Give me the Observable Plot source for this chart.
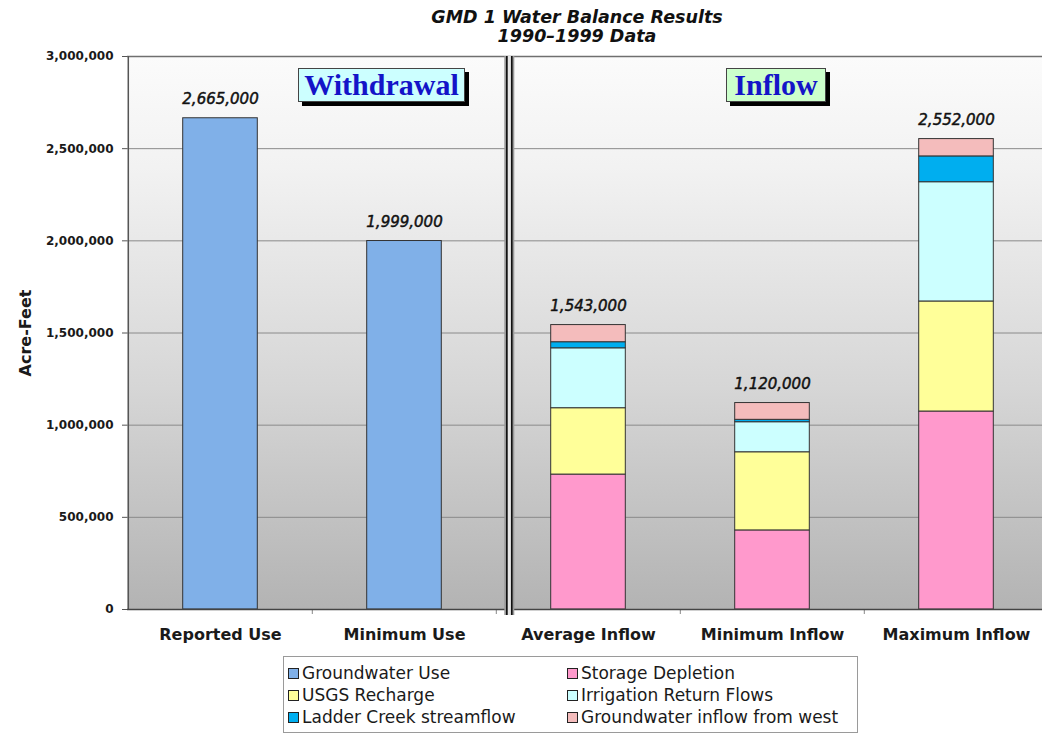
<!DOCTYPE html>
<html>
<head>
<meta charset="utf-8">
<script src="https://cdn.jsdelivr.net/npm/d3@7"></script>
<script src="https://cdn.jsdelivr.net/npm/@observablehq/plot@0.6"></script>
<style>
  body { margin: 0; background: #fff; }
  #chart { position: relative; width: 1042px; height: 734px; overflow: hidden; font-family: "DejaVu Sans", sans-serif; }
  #chart svg { position: absolute; left: 0; top: 0; }
  #title { position: absolute; left: 577px; top: 8px; transform: translateX(-50%); text-align: center;
           font: italic bold 17.5px/19px "DejaVu Sans", sans-serif; white-space: nowrap; color: #111; }
  .tag { position: absolute; top: 68px; height: 32px; border: 1px solid #444; box-shadow: 4px 4px 0 #000;
         font: bold 30px/32px "Liberation Serif", serif; color: #1414c8; text-align: center; }
  #legend { position: absolute; left: 283px; top: 656px; width: 569px; height: 70px; border: 1px solid #9a9a9a;
            background: #fff; display: grid; grid-template-columns: 279px 1fr; grid-auto-rows: 22px;
            padding: 5px 0 0 4px; font-size: 17px; color: #1a1a1a; }
  .item { display: flex; align-items: center; white-space: nowrap; }
  .sw { width: 9px; height: 9px; border: 1px solid #222; margin-right: 3px; flex: none; }
</style>
</head>
<body>
<div id="chart">
  <div id="title">GMD 1 Water Balance Results<br>1990–1999 Data</div>
</div>
<script>
// Bar groups along the x axis
const categories = ["Reported Use", "Minimum Use", "Average Inflow", "Minimum Inflow", "Maximum Inflow"];

// Components (acre-feet) for each group, bottom to top
const seriesNames = [
  "Groundwater Use", "Storage Depletion", "USGS Recharge",
  "Irrigation Return Flows", "Ladder Creek streamflow", "Groundwater inflow from west"
];
const seriesColors = ["#80b0e8", "#ff99cc", "#ffff99", "#ccffff", "#00aeef", "#f4bcbc"];

const groundwaterUse        = [2665000, 1999000, 0, 0, 0];
const storageDepletion      = [0, 0, 732000, 429000, 1074000];
const usgsRecharge          = [0, 0, 360000, 424000, 597000];
const irrigationReturnFlows = [0, 0, 325000, 163000, 647000];
const ladderCreek           = [0, 0, 33000, 13000, 140000];
const inflowFromWest        = [0, 0, 93000, 91000, 94000];

const yTicks = [0, 500000, 1000000, 1500000, 2000000, 2500000, 3000000];

const sectionTags = [
  {text: "Withdrawal", fill: "#ccffff", left: 298, width: 167},
  {text: "Inflow", fill: "#ccffcc", left: 726, width: 100}
];

// Long table for the stacked bars
const seriesValues = [groundwaterUse, storageDepletion, usgsRecharge, irrigationReturnFlows, ladderCreek, inflowFromWest];
const rows = [];
seriesNames.forEach((s, j) => categories.forEach((c, i) => {
  if (seriesValues[j][i] > 0) rows.push({category: c, series: s, value: seriesValues[j][i]});
}));
const totals = categories.map((c, i) => ({category: c, total: d3.sum(seriesValues, v => v[i])}));

const W = 1042, H = 734, mL = 127, mR = -7, mT = 56, mB = 125;
const step = (W - mL - mR) / categories.length;
const barWidth = 75;
const inset = (step - barWidth) / 2;
const dividerOffset = -step / 2 + 13;

const plot = Plot.plot({
  width: W, height: H,
  marginLeft: mL, marginRight: mR, marginTop: mT, marginBottom: mB,
  style: {fontFamily: '"DejaVu Sans", sans-serif', fontSize: "12px", color: "#1a1a1a", background: "transparent", overflow: "hidden"},
  x: {domain: categories, padding: 0, axis: null, label: null},
  y: {domain: [0, 3000000], axis: null, label: null},
  color: {domain: seriesNames, range: seriesColors},
  marks: [
    Plot.frame({fill: "url(#plot-bg)", stroke: null}),
    Plot.ruleY(yTicks, {stroke: "#8a8a8a", strokeWidth: 1}),
    Plot.ruleY([3000000], {stroke: "#6f6f6f", strokeWidth: 1.5}),
    Plot.barY(rows, Plot.stackY({
      x: "category", y: "value", fill: "series",
      stroke: "#333", strokeWidth: 1, insetLeft: inset, insetRight: inset
    })),
    Plot.text(totals, {
      x: "category", y: "total", text: d => d3.format(",")(d.total),
      dy: -19, fontSize: 15, fontStyle: "italic", fill: "#111", stroke: "#222", strokeWidth: 0.5
    }),
    // small ticks at the band boundaries
    Plot.ruleX(categories.slice(1), {dx: -step / 2, insetTop: H - mT - mB, insetBottom: -5, stroke: "#888"}),
    // left edge and baseline of the plot area
    Plot.ruleX([categories[0]], {dx: -step / 2, stroke: "#555", strokeWidth: 1.5}),
    Plot.ruleY([0], {stroke: "#444", strokeWidth: 1.5}),
    // double divider between withdrawal and inflow groups
    Plot.ruleX([categories[2]], {dx: dividerOffset, stroke: "#9a9a9a", strokeWidth: 10, insetBottom: -6}),
    Plot.ruleX([categories[2]], {dx: dividerOffset, stroke: "#e6e6e6", strokeWidth: 3, insetBottom: -6}),
    Plot.ruleX([categories[2]], {dx: dividerOffset - 2.5, stroke: "#111", strokeWidth: 1.6, insetBottom: -6}),
    Plot.ruleX([categories[2]], {dx: dividerOffset + 2.5, stroke: "#111", strokeWidth: 1.6, insetBottom: -6}),
    Plot.axisY({
      ticks: yTicks, tickFormat: d3.format(","), tickSize: 5, tickPadding: 9,
      fontSize: 12, fontWeight: "bold", label: null, stroke: "#555"
    }),
    Plot.axisX({tickSize: 0, tickPadding: 19, fontSize: 16, fontWeight: "bold", label: null}),
    Plot.text(["Acre-Feet"], {
      text: d => d, frameAnchor: "left", textAnchor: "middle", dx: -102, rotate: -90,
      fontSize: 16, fontWeight: "bold"
    })
  ]
});

// vertical gray gradient behind the plot area
const defs = d3.select(plot).insert("defs", ":first-child");
const grad = defs.append("linearGradient").attr("id", "plot-bg")
  .attr("x1", 0).attr("y1", 0).attr("x2", 0).attr("y2", 1);
[[0, "#fbfbfb"], [0.2, "#f2f2f2"], [0.6, "#d6d6d6"], [1, "#b3b3b3"]].forEach(([o, c]) =>
  grad.append("stop").attr("offset", o).attr("stop-color", c));

const chart = document.getElementById("chart");
chart.insertBefore(plot, chart.firstChild);

// section tags
sectionTags.forEach(t => {
  const d = document.createElement("div");
  d.className = "tag";
  d.textContent = t.text;
  d.style.left = t.left + "px";
  d.style.width = (t.width - 2) + "px";
  d.style.background = t.fill;
  chart.appendChild(d);
});

// legend, two columns in row order
const legend = d3.select(chart).append("div").attr("id", "legend");
seriesNames.forEach((s, i) => {
  const item = legend.append("div").attr("class", "item");
  item.append("span").attr("class", "sw").style("background", seriesColors[i]);
  item.append("span").text(s);
});
</script>
</body>
</html>
